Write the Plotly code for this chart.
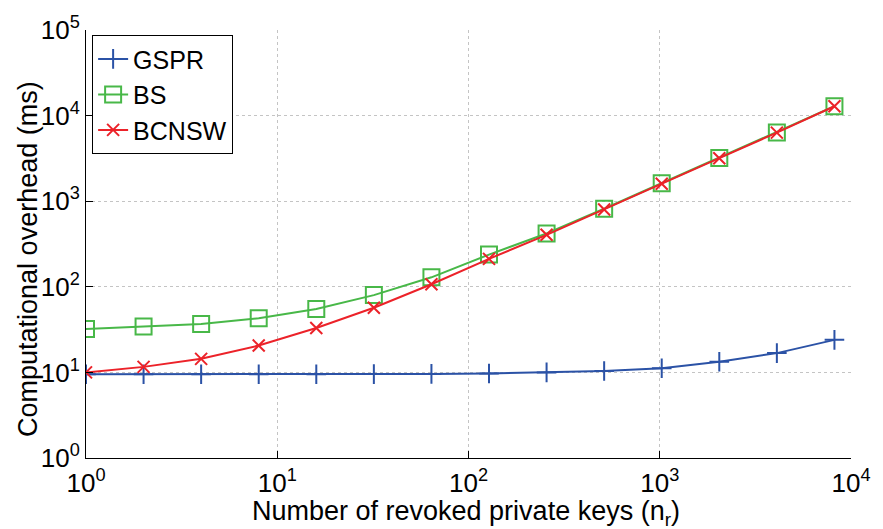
import plotly.graph_objects as go

n_revoked = [1, 2, 4, 8, 16, 32, 64, 128, 256, 512, 1024, 2048, 4096, 8192]
gspr = [9.5, 9.5, 9.5, 9.5, 9.5, 9.55, 9.6, 9.7, 10.0, 10.4, 11.2, 13.3, 16.8, 24.0]
bs = [32.2, 34.3, 36.8, 43.0, 55.0, 80.0, 129, 238, 420, 816, 1620, 3200, 6340, 12860]
bcnsw = [10.0, 11.6, 14.4, 20.6, 33.0, 57.0, 107, 212, 405, 800, 1600, 3180, 6330, 12850]

x_tickvals = [1, 10, 100, 1000, 10000]
x_ticktext = ["10<sup>0</sup>", "10<sup>1</sup>", "10<sup>2</sup>", "10<sup>3</sup>", "10<sup>4</sup>"]
y_tickvals = [1, 10, 100, 1000, 10000, 100000]
y_ticktext = ["10<sup>0</sup>", "10<sup>1</sup>", "10<sup>2</sup>", "10<sup>3</sup>", "10<sup>4</sup>", "10<sup>5</sup>"]

FONT = "Liberation Sans, Arial, Helvetica, sans-serif"
BLUE = "#2B52A6"
GREEN = "#48B848"
RED = "#EC2229"

fig = go.Figure()
fig.add_trace(go.Scatter(x=n_revoked, y=gspr, name="GSPR", mode="lines+markers",
                         line=dict(color=BLUE, width=2),
                         marker=dict(symbol="cross-thin", size=14, line=dict(color=BLUE, width=2))))
fig.add_trace(go.Scatter(x=n_revoked, y=bs, name="BS", mode="lines+markers",
                         line=dict(color=GREEN, width=2),
                         marker=dict(symbol="square-open", size=16, color=GREEN, line=dict(color=GREEN, width=2))))
fig.add_trace(go.Scatter(x=n_revoked, y=bcnsw, name="BCNSW", mode="lines+markers",
                         line=dict(color=RED, width=2),
                         marker=dict(symbol="x-thin", size=12, line=dict(color=RED, width=2))))

axis_common = dict(type="log", showgrid=True, gridcolor="#c4c4c4", griddash="dot", gridwidth=1,
                   showline=True, linecolor="black", linewidth=1, ticks="inside", ticklen=7,
                   tickcolor="black", zeroline=False, tickfont=dict(family=FONT, size=26, color="black"))

fig.update_xaxes(range=[0, 4], tickvals=x_tickvals, ticktext=x_ticktext, ticklabelstandoff=2, **axis_common)
fig.update_yaxes(range=[0, 5], tickvals=y_tickvals, ticktext=y_ticktext, **axis_common)

fig.add_annotation(text="Number of revoked private keys (n<sub>r</sub>)", xref="paper", yref="paper",
                   x=0.497, y=0, yshift=-55, xanchor="center", yanchor="middle", showarrow=False,
                   font=dict(family=FONT, size=27, color="black"))
fig.add_annotation(text="Computational overhead (ms)", xref="paper", yref="paper",
                   x=0, y=0.465, xshift=-58, xanchor="center", yanchor="middle", showarrow=False,
                   textangle=-90, font=dict(family=FONT, size=27, color="black"))

fig.update_layout(
    width=883, height=529,
    margin=dict(l=86, r=23, t=28, b=71),
    plot_bgcolor="white", paper_bgcolor="white",
    font=dict(family=FONT, color="black"),
    showlegend=True,
    legend=dict(x=0.008, y=0.988, xanchor="left", yanchor="top",
                bgcolor="white", bordercolor="black", borderwidth=1,
                font=dict(family=FONT, size=25, color="black"),
                itemwidth=30, tracegroupgap=0),
)

fig.write_html("out.html")
